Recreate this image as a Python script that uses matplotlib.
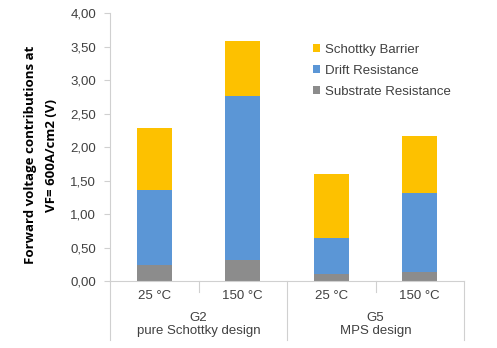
import numpy as np
import matplotlib.pyplot as plt
from matplotlib.ticker import FuncFormatter

# Forward voltage contributions (V) at 600 A/cm2
temps = ['25 °C', '150 °C', '25 °C', '150 °C']
groups = ['G2\npure Schottky design', 'G5\nMPS design']
substrate = [0.24, 0.32, 0.10, 0.14]
drift = [1.12, 2.44, 0.54, 1.17]
schottky = [0.93, 0.82, 0.96, 0.85]

c_sub = '#8c8c8c'
c_drift = '#5b96d6'
c_schottky = '#fdc100'
c_axis = '#d0d0d0'
c_text = '#404040'
fs = 9.5

plt.rcParams['font.family'] = ['Liberation Sans', 'DejaVu Sans']
fig = plt.figure(figsize=(4.97, 3.48), dpi=100)
ax = fig.add_axes([110 / 497, 1 - 281 / 348, 354 / 497, 268 / 348])

x = np.arange(len(temps))
w = 0.40
b1 = np.array(substrate)
b2 = b1 + np.array(drift)
ax.bar(x, substrate, w, color=c_sub, label='Substrate Resistance')
ax.bar(x, drift, w, bottom=b1, color=c_drift, label='Drift Resistance')
ax.bar(x, schottky, w, bottom=b2, color=c_schottky, label='Schottky Barrier')

ax.set_xlim(-0.5, 3.5)
ax.set_ylim(0, 4)
ax.set_yticks(np.arange(0, 4.01, 0.5))
ax.yaxis.set_major_formatter(FuncFormatter(lambda v, p: f'{v:.2f}'.replace('.', ',')))
ax.tick_params(axis='y', length=4, color=c_axis, labelsize=fs, labelcolor=c_text, pad=6)
ax.set_xticks([])

for s in ['top', 'right']:
    ax.spines[s].set_visible(False)
ax.spines['left'].set_color(c_axis)
ax.spines['bottom'].set_color(c_axis)

# category axis: separators and two-level labels
tr = ax.get_xaxis_transform()
for xs in [0.5, 2.5]:
    ax.plot([xs, xs], [0, -0.04], transform=tr, color=c_axis, lw=0.8, clip_on=False)
for xs in [-0.5, 1.5, 3.5]:
    ax.plot([xs, xs], [0, -0.22], transform=tr, color=c_axis, lw=0.8, clip_on=False)
for xi, t in zip(x, temps):
    ax.text(xi, -0.035, t, transform=tr, ha='center', va='top', fontsize=fs, color=c_text)
for gi, g in enumerate(groups):
    ax.text(0.5 + 2 * gi, -0.115, g, transform=tr, ha='center', va='top', fontsize=fs,
            color=c_text, linespacing=1.1)

ax.set_ylabel('Forward voltage contributions at\nVF= 600A/cm2 (V)', fontsize=9.5,
              fontweight='bold', family=['Open Sans', 'DejaVu Sans'], labelpad=9,
              linespacing=1.75)
ax.yaxis.label.set_y(0.47)

h, l = ax.get_legend_handles_labels()
ax.legend(h[::-1], l[::-1], loc='upper left', bbox_to_anchor=(0.54, 0.93), frameon=False,
          fontsize=fs, handlelength=0.55, handleheight=0.55, handletextpad=0.35,
          labelspacing=0.68, labelcolor=c_text)

fig.savefig('out.png', dpi=100)
